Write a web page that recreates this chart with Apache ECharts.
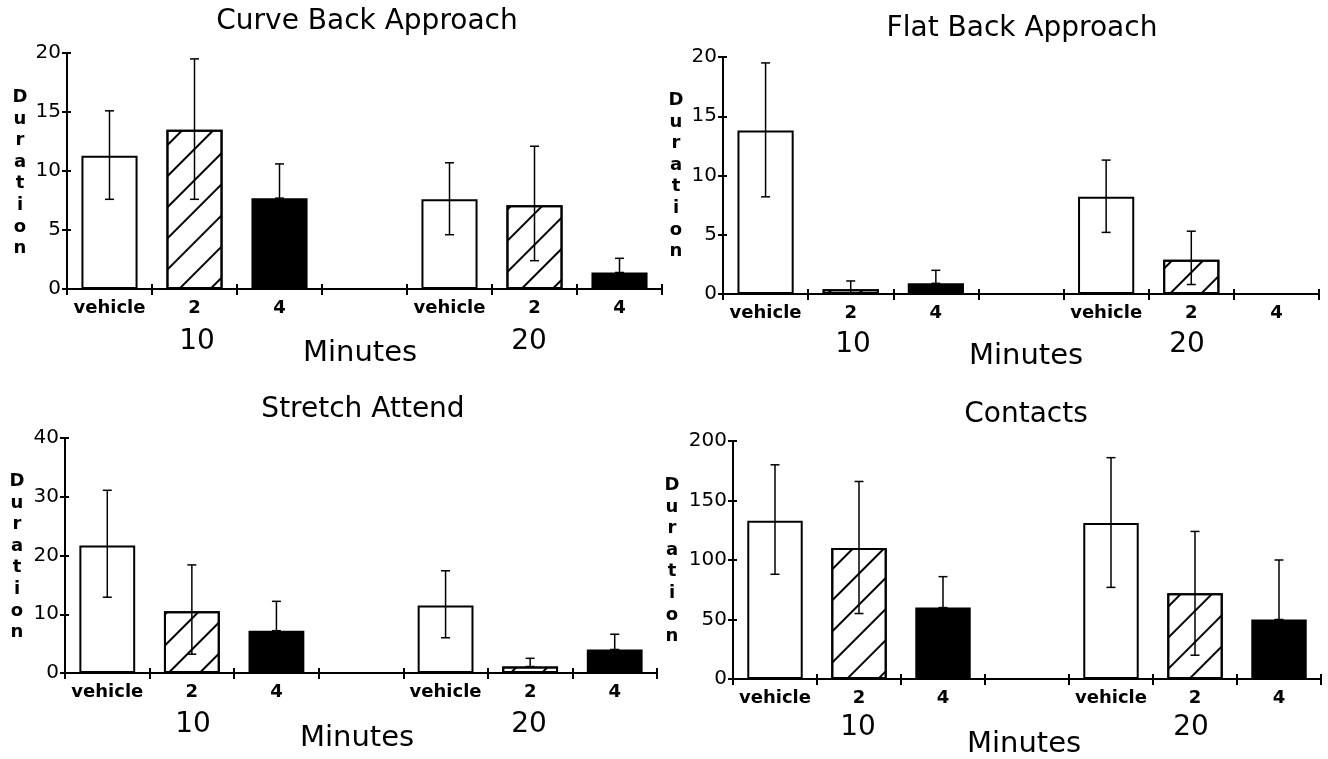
<!DOCTYPE html>
<html><head><meta charset="utf-8">
<script src="https://cdn.jsdelivr.net/npm/echarts@6/dist/echarts.min.js"></script>
<style>html,body{margin:0;padding:0;background:#fff}#c{width:1328px;height:759px}</style>
</head><body><div id="c"></div>
<script>
// ---- data ----
const categories = ['vehicle', '2', '4', '', 'vehicle', '2', '4'];
const groupLabels = ['10', '20'];
const xAxisTitle = 'Minutes';
const yAxisTitle = 'Duration';
const panelTitles = ['Curve Back Approach', 'Flat Back Approach', 'Stretch Attend', 'Contacts'];
const yMaxes = [20, 20, 40, 200];
const yIntervals = [5, 5, 10, 50];

const curveMean = [11.3, 13.5, 7.7, null, 7.6, 7.1, 1.4];
const curveLow  = [7.6, 7.6, 7.7, null, 4.6, 2.4, 1.4];
const curveHigh = [15.1, 19.5, 10.6, null, 10.7, 12.1, 2.6];

const flatMean = [13.8, 0.4, 0.9, null, 8.2, 2.9, 0];
const flatLow  = [8.2, 0.0, 0.9, null, 5.2, 0.8, null];
const flatHigh = [19.5, 1.1, 2.0, null, 11.3, 5.3, null];

const stretchMean = [21.7, 10.5, 7.2, null, 11.5, 1.1, 4.0];
const stretchLow  = [12.9, 3.2, 7.2, null, 6.0, 1.1, 4.0];
const stretchHigh = [31.1, 18.4, 12.2, null, 17.4, 2.5, 6.6];

const contactsMean = [133, 110, 60, null, 131, 72, 50];
const contactsLow  = [88, 55, 60, null, 77, 20, 50];
const contactsHigh = [180, 166, 86, null, 186, 124, 100];

const panelData = [
  [curveMean, curveLow, curveHigh],
  [flatMean, flatLow, flatHigh],
  [stretchMean, stretchLow, stretchHigh],
  [contactsMean, contactsLow, contactsHigh]
];

// ---- layout / style ----
const FONT = 'DejaVu Sans';
const grids = [
  {left: 67, top: 53, width: 595, height: 236},
  {left: 723, top: 57, width: 596, height: 237},
  {left: 65, top: 438, width: 592, height: 235},
  {left: 733, top: 441, width: 588, height: 238}
];
const textPos = [
  {title: [367, 22], dur: [20, 173], g10: [197, 342], g20: [529, 342], min: [360, 353]},
  {title: [1022, 29], dur: [676, 176], g10: [853, 345], g20: [1187, 345], min: [1026, 356]},
  {title: [363, 410], dur: [17, 557], g10: [193, 725], g20: [529, 725], min: [357, 738]},
  {title: [1026, 415], dur: [672, 561], g10: [858, 728], g20: [1191, 728], min: [1024, 744]}
];
const barKinds = ['open', 'hatch', 'solid', 'none', 'open', 'hatch', 'solid'];

function barStyle(kind) {
  if (kind === 'solid') return {color: '#000', borderColor: '#000', borderWidth: 2};
  if (kind === 'hatch') return {
    color: '#fff', borderColor: '#000', borderWidth: 2,
    decal: {symbol: 'rect', symbolSize: 1, dashArrayX: [1, 0], dashArrayY: [2, 20],
            rotation: -Math.PI / 4, color: '#000'}
  };
  return {color: '#fff', borderColor: '#000', borderWidth: 2};
}

const axisCol = {color: '#000', width: 2};
const option = {
  animation: false,
  backgroundColor: '#fff',
  grid: grids.map(g => Object.assign({containLabel: false}, g)),
  xAxis: [], yAxis: [], series: [], graphic: []
};

grids.forEach((g, i) => {
  option.xAxis.push({
    type: 'category', gridIndex: i, data: categories, position: 'bottom',
    axisLine: {show: true, lineStyle: axisCol},
    axisTick: {show: true, length: 6, interval: 0, lineStyle: axisCol},
    axisLabel: {interval: 0, color: '#000', fontFamily: FONT, fontWeight: 'bold', fontSize: 18, margin: 10},
    splitLine: {show: false}
  });
  option.xAxis.push({
    type: 'category', gridIndex: i, data: categories, position: 'bottom', offset: 0,
    axisLine: {show: false},
    axisTick: {show: true, inside: true, length: 5, interval: 0, lineStyle: axisCol},
    axisLabel: {show: false}, splitLine: {show: false}
  });
  option.yAxis.push({
    type: 'value', gridIndex: i, min: 0, max: yMaxes[i], interval: yIntervals[i], position: 'left',
    axisLine: {show: true, lineStyle: axisCol},
    axisTick: {show: true, length: 5, lineStyle: axisCol},
    axisLabel: {color: '#000', fontFamily: FONT, fontSize: 20, margin: 6},
    splitLine: {show: false}
  });
  option.yAxis.push({
    type: 'value', gridIndex: i, min: 0, max: yMaxes[i], interval: yIntervals[i], position: 'left', offset: 0,
    axisLine: {show: false},
    axisTick: {show: true, inside: true, length: 4, lineStyle: axisCol},
    axisLabel: {show: false}, splitLine: {show: false}
  });

  const [mean, low, high] = panelData[i];
  option.series.push({
    type: 'bar', xAxisIndex: 2 * i, yAxisIndex: 2 * i, barWidth: '66%',
    data: mean.map((v, k) => ({value: v, itemStyle: barStyle(barKinds[k])})),
    z: 2
  });
  const errData = [];
  low.forEach((l, k) => { if (l != null && high[k] != null) errData.push([k, l, high[k]]); });
  option.series.push({
    type: 'custom', xAxisIndex: 2 * i, yAxisIndex: 2 * i, z: 5,
    encode: {x: 0, y: [1, 2]},
    data: errData,
    renderItem: function (params, api) {
      const x = api.value(0);
      const top = api.coord([x, api.value(2)]);
      const bot = api.coord([x, api.value(1)]);
      const w = 4.5;
      const st = {stroke: '#000', lineWidth: 1.5};
      return {type: 'group', children: [
        {type: 'line', shape: {x1: top[0], y1: top[1], x2: bot[0], y2: bot[1]}, style: st},
        {type: 'line', shape: {x1: top[0] - w, y1: top[1], x2: top[0] + w, y2: top[1]}, style: st},
        {type: 'line', shape: {x1: bot[0] - w, y1: bot[1], x2: bot[0] + w, y2: bot[1]}, style: st}
      ]};
    }
  });

  const tp = textPos[i];
  const txt = (t, p, size, extra) => ({
    type: 'text', x: p[0], y: p[1], silent: true,
    style: Object.assign({text: t, fill: '#000', fontFamily: FONT, fontSize: size,
      textAlign: 'center', textVerticalAlign: 'middle', align: 'center', verticalAlign: 'middle'}, extra || {})
  });
  option.graphic.push(txt(panelTitles[i], tp.title, 28));
  option.graphic.push(txt(yAxisTitle.split('').join('\n'), tp.dur, 18, {fontWeight: 'bold', lineHeight: 21.6}));
  option.graphic.push(txt(groupLabels[0], tp.g10, 28));
  option.graphic.push(txt(groupLabels[1], tp.g20, 28));
  option.graphic.push(txt(xAxisTitle, tp.min, 29));
});

const chart = echarts.init(document.getElementById('c'), null, {renderer: 'canvas'});
chart.setOption(option);
</script>
</body></html>
